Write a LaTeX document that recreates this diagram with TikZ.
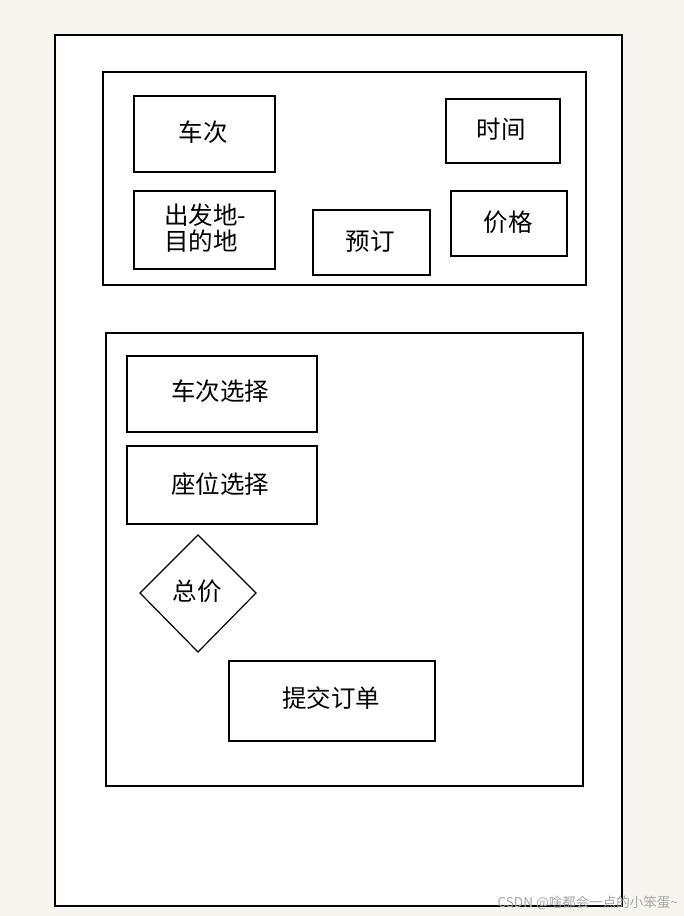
\documentclass[tikz,border=0pt]{standalone}
\usepackage{fontspec}
\newfontfamily\cjk{Noto Sans CJK SC}
\usetikzlibrary{shapes.geometric}
\definecolor{bgcream}{HTML}{F8F5EE}
\tikzset{
  panel/.style={draw=black,line width=1.3pt,fill=white},
  box/.style={draw=black,line width=1.2pt,fill=white,inner sep=0pt},
  lbl/.style={font=\cjk\fontsize{24.5}{26}\selectfont,inner sep=0pt},
}
\begin{document}
\begin{tikzpicture}[x=1pt,y=-1pt]
\fill[bgcream] (0,0) rectangle (684,916);
\useasboundingbox (0,0) rectangle (684,916);
\draw[panel] (55,35) rectangle (622,906);
% top panel
\draw[panel] (103,72) rectangle (586,285);
\draw[box] (134,96) rectangle (275,172);
\node[lbl] (checi) at (203,132) {车次};
\draw[box] (446,99) rectangle (560,163);
\node[lbl] (shijian) at (501,129) {时间};
\draw[box] (134,191) rectangle (275,269);
\node[lbl,align=left,font=\cjk\fontsize{24.5}{26}\selectfont] (od) at (205,228) {出发地-\\目的地};
\draw[box] (313,210) rectangle (430,275);
\node[lbl] (yuding) at (370,241) {预订};
\draw[box] (451,191) rectangle (567,256);
\node[lbl] (jiage) at (508,222) {价格};
% bottom panel
\draw[panel] (106,333) rectangle (583,786);
\draw[box] (127,356) rectangle (317,432);
\node[lbl] (checixz) at (220,391) {车次选择};
\draw[box] (127,446) rectangle (317,524);
\node[lbl] (zuowei) at (220,484) {座位选择};
\draw[box] (198,535) -- (256,593) -- (198,652) -- (140,593) -- cycle;
\node[lbl] (zongjia) at (197,591) {总价};
\draw[box] (229,661) rectangle (435,741);
\node[lbl] (tijiao) at (331,698) {提交订单};
% watermark
\node[font=\cjk\fontsize{13.5}{15}\selectfont,text=black!35,anchor=east,inner sep=0pt] (wm) at (678,903) {CSDN @啥都会一点的小笨蛋\textasciitilde};
\end{tikzpicture}
\end{document}
